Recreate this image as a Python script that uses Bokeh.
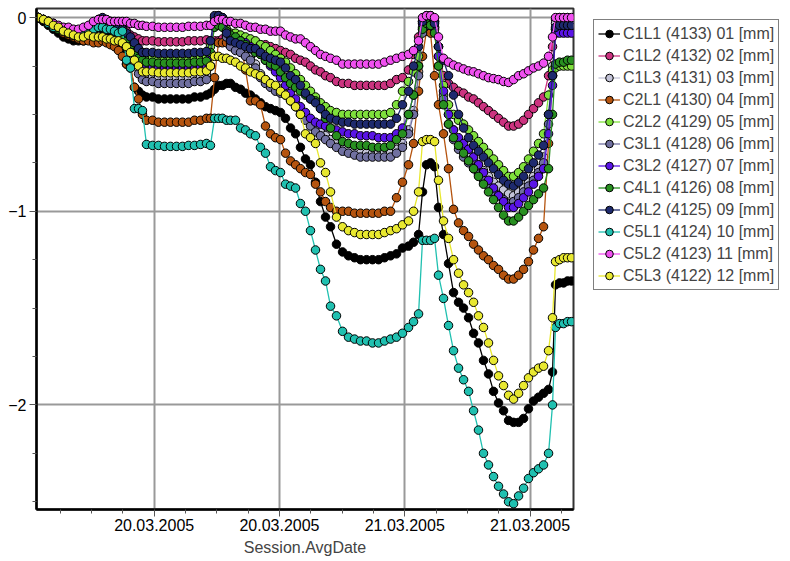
from bokeh.plotting import figure
from bokeh.models import Range1d, FixedTicker, Legend, LegendItem
from bokeh.embed import file_html
from bokeh.resources import INLINE

# session times, hours relative to 20.03.2005 00:00
hours = [-11.08, -10.60, -10.13, -9.65, -9.17, -8.69, -8.21, -7.73, -7.25, -6.77, -6.29, -5.81, -5.34,
         -4.95, -4.57, -4.19, -3.80, -3.42, -3.04,
         -2.65, -2.27, -1.89, -1.50, -1.12,
         -0.74, -0.16, 0.41, 0.99, 1.56, 2.14, 2.71, 3.29, 3.86, 4.44, 5.01,
         5.39, 5.78, 6.16, 6.54, 6.93,
         7.31, 7.79, 8.27, 8.75, 9.22, 9.70, 10.18, 10.66, 11.14, 11.62, 12.10, 12.58, 13.06, 13.54, 14.01, 14.49, 14.97, 15.45, 15.93, 16.41,
         16.89, 17.46, 18.04, 18.61, 19.19, 19.76, 20.34, 20.91, 21.49, 22.06, 22.64, 23.21, 23.78, 24.36, 24.84, 25.32,
         25.70, 26.08, 26.47, 26.85,
         27.23, 27.71, 28.19, 28.67, 29.15, 29.63, 30.11, 30.59, 31.06, 31.54, 32.02, 32.50, 32.98, 33.46, 33.94,
         34.42, 34.90, 35.38, 35.85, 36.33, 36.81, 37.29, 37.77, 38.15,
         38.44, 38.82, 39.21, 39.59, 39.97]

names = ["C1L1 (4133) 01 [mm]", "C1L2 (4132) 02 [mm]", "C1L3 (4131) 03 [mm]", "C2L1 (4130) 04 [mm]",
         "C2L2 (4129) 05 [mm]", "C3L1 (4128) 06 [mm]", "C3L2 (4127) 07 [mm]", "C4L1 (4126) 08 [mm]",
         "C4L2 (4125) 09 [mm]", "C5L1 (4124) 10 [mm]", "C5L2 (4123) 11 [mm]", "C5L3 (4122) 12 [mm]"]
colors = ["#000000", "#cc3380", "#c4c4d8", "#b5540f", "#7fe03c", "#7070a0",
          "#5a14e6", "#289020", "#1e2a6e", "#20c0b0", "#f050f0", "#e8e830"]

c1l1 = [0, -0.02, -0.04, -0.06, -0.08, -0.10, -0.11, -0.12, -0.12, -0.12, -0.11, -0.08, -0.05,
        -0.06, -0.08, -0.10, -0.12, -0.14, -0.18,
        -0.24, -0.26, -0.36, -0.38, -0.40,
        -0.41, -0.41, -0.42, -0.42, -0.42, -0.42, -0.42, -0.42, -0.41, -0.41, -0.40,
        -0.39, -0.37, -0.35, -0.35, -0.34,
        -0.34, -0.36, -0.37, -0.39, -0.40, -0.42, -0.44, -0.46, -0.47, -0.48, -0.49, -0.52, -0.57, -0.60, -0.67, -0.73, -0.76, -0.85, -0.95, -1.03,
        -1.08, -1.17, -1.21, -1.23, -1.24, -1.25, -1.25, -1.25, -1.25, -1.24, -1.23, -1.22, -1.19, -1.18, -1.16, -1.12,
        -0.90, -0.76, -0.75, -0.77,
        -0.98, -1.12, -1.27, -1.42, -1.47, -1.50, -1.55, -1.63, -1.68, -1.77, -1.84, -1.93, -1.99, -2.03, -2.08,
        -2.09, -2.09, -2.07, -2.02, -1.98, -1.96, -1.94, -1.92, -1.83,
        -1.38, -1.37, -1.37, -1.36, -1.36]
c1l2 = [0, -0.01, -0.03, -0.04, -0.05, -0.06, -0.07, -0.08, -0.08, -0.07, -0.05, -0.03, -0.01,
        -0.01, -0.02, -0.02, -0.03, -0.04, -0.05,
        -0.07, -0.09, -0.10, -0.11, -0.12,
        -0.12, -0.12, -0.125, -0.125, -0.125, -0.125, -0.125, -0.12, -0.12, -0.12, -0.115,
        -0.12, -0.12, -0.12, -0.11, -0.11,
        -0.11, -0.11, -0.11, -0.12, -0.12, -0.13, -0.14, -0.14, -0.15, -0.16, -0.17, -0.18, -0.19, -0.21, -0.22, -0.23, -0.25, -0.27, -0.28, -0.30,
        -0.31, -0.33, -0.34, -0.34, -0.35, -0.35, -0.35, -0.35, -0.35, -0.35, -0.34, -0.32, -0.31, -0.27, -0.19, -0.10,
        -0.02, 0.0, 0.0, -0.02,
        -0.15, -0.30, -0.34, -0.36, -0.38, -0.39, -0.41, -0.42, -0.44, -0.46, -0.48, -0.50, -0.52, -0.54, -0.56,
        -0.56, -0.55, -0.53, -0.50, -0.47, -0.44, -0.41, -0.30, -0.15,
        -0.01, 0.0, 0.0, 0.0, -0.01]
c1l3 = [0, -0.01, -0.02, -0.03, -0.05, -0.06, -0.07, -0.08, -0.09, -0.08, -0.06, -0.04, -0.02,
        -0.02, -0.03, -0.05, -0.06, -0.08, -0.10,
        -0.13, -0.17, -0.21, -0.26, -0.29,
        -0.30, -0.30, -0.31, -0.31, -0.31, -0.31, -0.31, -0.31, -0.30, -0.30, -0.29,
        -0.25, -0.02, -0.01, -0.03, -0.10,
        -0.13, -0.15, -0.16, -0.18, -0.20, -0.24, -0.29, -0.32, -0.34, -0.36, -0.37, -0.38, -0.41, -0.44, -0.48, -0.51, -0.54, -0.57, -0.59, -0.61,
        -0.63, -0.65, -0.67, -0.68, -0.69, -0.70, -0.70, -0.70, -0.70, -0.70, -0.70, -0.68, -0.65, -0.58, -0.48, -0.28,
        -0.06, -0.03, -0.02, -0.05,
        -0.20, -0.40, -0.50, -0.58, -0.63, -0.67, -0.70, -0.73, -0.76, -0.79, -0.82, -0.85, -0.87, -0.89, -0.91,
        -0.92, -0.90, -0.88, -0.85, -0.82, -0.78, -0.72, -0.50, -0.25,
        -0.03, -0.03, -0.03, -0.03, -0.03]
c2l1 = [0, -0.01, -0.03, -0.05, -0.06, -0.08, -0.09, -0.10, -0.11, -0.12, -0.12, -0.13, -0.13,
        -0.12, -0.13, -0.14, -0.15, -0.17, -0.20,
        -0.24, -0.25, -0.36, -0.42, -0.50,
        -0.53, -0.53, -0.54, -0.54, -0.54, -0.54, -0.54, -0.54, -0.53, -0.53, -0.52,
        -0.52, -0.31, -0.13, -0.13, -0.13,
        -0.13, -0.13, -0.13, -0.27, -0.43, -0.43, -0.45, -0.56, -0.60, -0.62, -0.63, -0.70, -0.74, -0.76, -0.78, -0.80, -0.81, -0.86, -0.90, -0.95,
        -0.98, -1.00, -1.00, -1.00, -1.01, -1.01, -1.01, -1.01, -1.01, -1.00, -1.00, -0.93, -0.85, -0.76, -0.65, -0.38,
        -0.20, -0.07, -0.08, -0.30,
        -0.45, -0.60, -0.78, -0.99, -1.06, -1.10, -1.13, -1.17, -1.20, -1.23, -1.25, -1.28, -1.30, -1.33, -1.35,
        -1.35, -1.33, -1.30, -1.26, -1.20, -1.14, -1.08, -0.65, -0.30,
        -0.06, -0.05, -0.05, -0.05, -0.05]
c2l2 = [0, -0.01, -0.02, -0.03, -0.05, -0.06, -0.07, -0.08, -0.08, -0.07, -0.05, -0.03, -0.02,
        -0.02, -0.03, -0.04, -0.05, -0.06, -0.08,
        -0.10, -0.13, -0.16, -0.19, -0.21,
        -0.21, -0.21, -0.22, -0.22, -0.22, -0.22, -0.22, -0.22, -0.21, -0.21, -0.20,
        -0.15, -0.04, -0.03, -0.04, -0.06,
        -0.08, -0.08, -0.09, -0.10, -0.11, -0.12, -0.14, -0.15, -0.17, -0.19, -0.21, -0.23, -0.26, -0.29, -0.32, -0.35, -0.38, -0.41, -0.44, -0.46,
        -0.48, -0.49, -0.50, -0.50, -0.50, -0.50, -0.50, -0.50, -0.50, -0.50, -0.49, -0.45, -0.38, -0.33, -0.28, -0.20,
        -0.05, -0.02, -0.03, -0.06,
        -0.15, -0.35, -0.45, -0.50, -0.53, -0.55, -0.58, -0.61, -0.64, -0.67, -0.70, -0.73, -0.76, -0.79, -0.82,
        -0.82, -0.80, -0.77, -0.73, -0.69, -0.65, -0.60, -0.40, -0.27,
        -0.26, -0.25, -0.25, -0.25, -0.25]
c3l1 = [0, -0.01, -0.02, -0.04, -0.05, -0.07, -0.08, -0.09, -0.09, -0.08, -0.06, -0.04, -0.02,
        -0.02, -0.04, -0.06, -0.08, -0.10, -0.12,
        -0.15, -0.19, -0.24, -0.29, -0.32,
        -0.33, -0.33, -0.34, -0.34, -0.34, -0.34, -0.34, -0.34, -0.33, -0.33, -0.32,
        -0.25, -0.02, -0.01, -0.03, -0.10,
        -0.15, -0.17, -0.18, -0.20, -0.22, -0.26, -0.31, -0.34, -0.36, -0.38, -0.39, -0.40, -0.43, -0.46, -0.50, -0.53, -0.56, -0.59, -0.61, -0.63,
        -0.65, -0.67, -0.69, -0.70, -0.71, -0.72, -0.72, -0.72, -0.72, -0.72, -0.72, -0.70, -0.67, -0.60, -0.50, -0.30,
        -0.08, -0.04, -0.03, -0.05,
        -0.25, -0.42, -0.55, -0.63, -0.68, -0.72, -0.75, -0.78, -0.81, -0.84, -0.87, -0.90, -0.92, -0.94, -0.96,
        -0.95, -0.93, -0.90, -0.87, -0.84, -0.80, -0.75, -0.55, -0.30,
        -0.06, -0.05, -0.05, -0.05, -0.05]
c3l2 = [0, -0.01, -0.02, -0.04, -0.05, -0.06, -0.07, -0.08, -0.08, -0.07, -0.05, -0.03, -0.01,
        -0.01, -0.02, -0.04, -0.06, -0.08, -0.10,
        -0.12, -0.15, -0.19, -0.23, -0.25,
        -0.255, -0.255, -0.26, -0.26, -0.26, -0.26, -0.26, -0.26, -0.255, -0.255, -0.25,
        -0.20, 0.0, 0.01, 0.0, -0.07,
        -0.10, -0.11, -0.12, -0.13, -0.15, -0.17, -0.19, -0.22, -0.25, -0.28, -0.31, -0.35, -0.39, -0.42, -0.46, -0.49, -0.52, -0.54, -0.55, -0.56,
        -0.57, -0.58, -0.59, -0.60, -0.60, -0.61, -0.61, -0.61, -0.62, -0.62, -0.62, -0.60, -0.57, -0.50, -0.40, -0.25,
        -0.03, 0.0, 0.01, -0.02,
        -0.20, -0.38, -0.50, -0.58, -0.62, -0.65, -0.68, -0.72, -0.76, -0.80, -0.84, -0.88, -0.92, -0.95, -0.98,
        -0.98, -0.96, -0.93, -0.90, -0.86, -0.82, -0.78, -0.60, -0.35,
        -0.08, -0.08, -0.08, -0.08, -0.08]
c4l1 = [0, -0.01, -0.03, -0.04, -0.06, -0.07, -0.08, -0.09, -0.09, -0.08, -0.06, -0.04, -0.02,
        -0.02, -0.03, -0.05, -0.07, -0.08, -0.10,
        -0.12, -0.15, -0.18, -0.21, -0.22,
        -0.23, -0.23, -0.235, -0.235, -0.235, -0.235, -0.235, -0.235, -0.23, -0.23, -0.225,
        -0.18, -0.05, -0.04, -0.05, -0.07,
        -0.09, -0.10, -0.12, -0.14, -0.16, -0.18, -0.19, -0.22, -0.24, -0.25, -0.28, -0.31, -0.34, -0.36, -0.38, -0.40, -0.42, -0.43, -0.47, -0.52,
        -0.57, -0.61, -0.64, -0.65, -0.66, -0.66, -0.66, -0.67, -0.67, -0.67, -0.66, -0.63, -0.60, -0.50, -0.40, -0.25,
        -0.06, -0.03, -0.04, -0.08,
        -0.25, -0.45, -0.55, -0.62, -0.66, -0.70, -0.74, -0.78, -0.82, -0.86, -0.90, -0.94, -0.98, -1.02, -1.05,
        -1.05, -1.03, -1.00, -0.97, -0.94, -0.91, -0.88, -0.78, -0.50,
        -0.24, -0.23, -0.23, -0.22, -0.22]
c4l2 = [0, -0.01, -0.02, -0.04, -0.05, -0.07, -0.08, -0.09, -0.09, -0.08, -0.06, -0.03, -0.01,
        0.0, -0.01, -0.02, -0.04, -0.05, -0.06,
        -0.08, -0.10, -0.13, -0.16, -0.18,
        -0.18, -0.18, -0.185, -0.185, -0.185, -0.185, -0.185, -0.185, -0.18, -0.18, -0.175,
        -0.12, 0.01, 0.01, 0.0, -0.08,
        -0.12, -0.13, -0.14, -0.15, -0.16, -0.16, -0.18, -0.20, -0.21, -0.22, -0.23, -0.26, -0.30, -0.32, -0.35, -0.39, -0.42, -0.44, -0.47, -0.50,
        -0.52, -0.53, -0.54, -0.54, -0.55, -0.55, -0.55, -0.55, -0.55, -0.55, -0.55, -0.52, -0.45, -0.38, -0.25, -0.15,
        -0.02, 0.01, 0.01, -0.03,
        -0.15, -0.22, -0.30, -0.40, -0.50, -0.57, -0.62, -0.66, -0.69, -0.72, -0.75, -0.78, -0.81, -0.84, -0.86,
        -0.87, -0.85, -0.82, -0.78, -0.75, -0.71, -0.66, -0.50, -0.30,
        -0.05, -0.04, -0.04, -0.04, -0.04]
c5l1 = [0, -0.01, -0.03, -0.05, -0.05, -0.06, -0.07, -0.08, -0.08, -0.08, -0.07, -0.06, -0.05,
        -0.05, -0.06, -0.06, -0.07, -0.08, -0.07,
        -0.22, -0.26, -0.47, -0.47, -0.48,
        -0.655, -0.66, -0.66, -0.665, -0.665, -0.665, -0.665, -0.66, -0.66, -0.655, -0.65,
        -0.66, -0.52, -0.52, -0.52, -0.53,
        -0.53, -0.53, -0.57, -0.58, -0.60, -0.61, -0.67, -0.70, -0.77, -0.79, -0.80, -0.86, -0.87, -0.88, -0.96, -1.00, -1.10, -1.20, -1.30, -1.36,
        -1.49, -1.54, -1.62, -1.65, -1.66, -1.67, -1.67, -1.68, -1.68, -1.67, -1.66, -1.65, -1.63, -1.60, -1.57, -1.53,
        -1.15, -1.15, -1.15, -1.14,
        -1.33, -1.45, -1.59, -1.72, -1.81, -1.87, -1.93, -2.03, -2.13, -2.25, -2.31, -2.37, -2.42, -2.46, -2.50,
        -2.51, -2.47, -2.43, -2.38, -2.35, -2.33, -2.31, -2.25, -2.00,
        -1.60, -1.58, -1.58, -1.57, -1.57]
c5l2 = [0, -0.01, -0.02, -0.03, -0.04, -0.05, -0.05, -0.06, -0.06, -0.05, -0.04, -0.02, -0.01,
        -0.01, -0.01, -0.02, -0.02, -0.02, -0.02,
        -0.02, -0.03, -0.03, -0.04, -0.04,
        -0.045, -0.045, -0.05, -0.05, -0.05, -0.05, -0.05, -0.045, -0.045, -0.045, -0.04,
        -0.04, -0.02, -0.01, -0.01, -0.02,
        -0.02, -0.03, -0.03, -0.04, -0.05, -0.05, -0.06, -0.06, -0.07, -0.07, -0.07, -0.09, -0.10, -0.11, -0.11, -0.13, -0.15, -0.17, -0.19, -0.20,
        -0.21, -0.22, -0.24, -0.24, -0.24, -0.24, -0.24, -0.24, -0.24, -0.23, -0.22, -0.21, -0.20, -0.19, -0.17, -0.12,
        0.0, 0.01, 0.01, 0.0,
        -0.10, -0.21, -0.23, -0.245, -0.255, -0.265, -0.275, -0.28, -0.29, -0.30, -0.31, -0.315, -0.32, -0.33, -0.335,
        -0.32, -0.30, -0.29, -0.275, -0.26, -0.25, -0.235, -0.20, -0.10,
        0.0, 0.0, 0.0, 0.0, 0.0]
c5l3 = [0, -0.01, -0.02, -0.04, -0.05, -0.07, -0.08, -0.09, -0.10, -0.10, -0.09, -0.10, -0.10,
        -0.10, -0.11, -0.11, -0.12, -0.12, -0.13,
        -0.15, -0.18, -0.22, -0.25, -0.28,
        -0.28, -0.28, -0.285, -0.285, -0.285, -0.285, -0.285, -0.285, -0.28, -0.28, -0.275,
        -0.25, -0.20, -0.20, -0.21, -0.21,
        -0.22, -0.23, -0.25, -0.26, -0.28, -0.29, -0.30, -0.32, -0.34, -0.35, -0.38, -0.40, -0.43, -0.46, -0.50, -0.60, -0.62, -0.65, -0.75, -0.80,
        -0.90, -1.03, -1.08, -1.10, -1.11, -1.12, -1.12, -1.12, -1.12, -1.11, -1.10, -1.09, -1.07, -1.05, -1.00, -0.90,
        -0.64, -0.63, -0.63, -0.64,
        -0.84, -1.05, -1.14, -1.25, -1.32, -1.38, -1.42, -1.47, -1.54, -1.60, -1.68, -1.77, -1.85, -1.90, -1.95,
        -1.97, -1.94, -1.90, -1.86, -1.83, -1.81, -1.80, -1.72, -1.55,
        -1.26, -1.25, -1.24, -1.24, -1.24]

series = [c1l1, c1l2, c1l3, c2l1, c2l2, c3l1, c3l2, c4l1, c4l2, c5l1, c5l2, c5l3]

x_major = [0, 12, 24, 36]
x_labels = ["20.03.2005", "20.03.2005", "21.03.2005", "21.03.2005"]
x_minor = [-9, -6, -3, 3, 6, 9, 15, 18, 21, 27, 30, 33, 39]
y_major = [0, -1, -2]
y_minor = [0.0, -0.25, -0.5, -0.75, -1.25, -1.5, -1.75, -2.25, -2.5]

FONT = "Liberation Sans"

p = figure(frame_width=537, frame_height=501, output_backend="svg", toolbar_location=None,
           x_range=Range1d(-11.27, 40.16), y_range=Range1d(-2.54, 0.047),
           min_border_left=36, min_border_right=212, min_border_top=8, min_border_bottom=10,
           background_fill_color="white", border_fill_color="white")

p.outline_line_color = "#333333"
p.outline_line_width = 2

for ax in (p.xaxis[0], p.yaxis[0]):
    ax.axis_line_color = "black"
    ax.axis_line_width = 2.5
    ax.major_tick_line_color = "#555555"
    ax.minor_tick_line_color = "#555555"
    ax.major_tick_out = 7
    ax.major_tick_in = 0
    ax.minor_tick_out = 4
    ax.minor_tick_in = 0
    ax.major_label_text_font = FONT
    ax.major_label_text_font_size = "16px"
    ax.major_label_text_color = "black"

p.xaxis.ticker = FixedTicker(ticks=x_major, minor_ticks=x_minor)
p.xaxis.major_label_overrides = dict(zip(x_major, x_labels))
p.xaxis.major_label_standoff = 2
p.xaxis.axis_label = "Session.AvgDate"
p.xaxis.axis_label_text_font = FONT
p.xaxis.axis_label_text_font_size = "16px"
p.xaxis.axis_label_text_font_style = "normal"
p.xaxis.axis_label_standoff = 5

p.yaxis.ticker = FixedTicker(ticks=y_major, minor_ticks=y_minor)
p.yaxis.major_label_standoff = 3

p.xgrid.grid_line_color = "#999999"
p.ygrid.grid_line_color = "#999999"
p.xgrid.grid_line_width = 2
p.ygrid.grid_line_width = 2

items = []
for name, col, vals in zip(names, colors, series):
    ln = p.line(hours, vals, line_color=col, line_width=1.3)
    pts = p.scatter(hours, vals, size=8.5, fill_color=col, line_color="black", line_width=1)
    items.append(LegendItem(label=name, renderers=[ln, pts]))

legend = Legend(items=items, location=(20, 219))
legend.label_text_font = FONT
legend.label_text_font_size = "16px"
legend.glyph_width = 22
legend.glyph_height = 19
legend.label_height = 19
legend.spacing = 3
legend.padding = 4
legend.margin = 0
legend.label_standoff = 3
legend.border_line_color = "black"
legend.border_line_width = 1.5
legend.background_fill_color = "white"
legend.background_fill_alpha = 1
p.add_layout(legend, "right")

open("out.html", "w").write(file_html(p, INLINE))
